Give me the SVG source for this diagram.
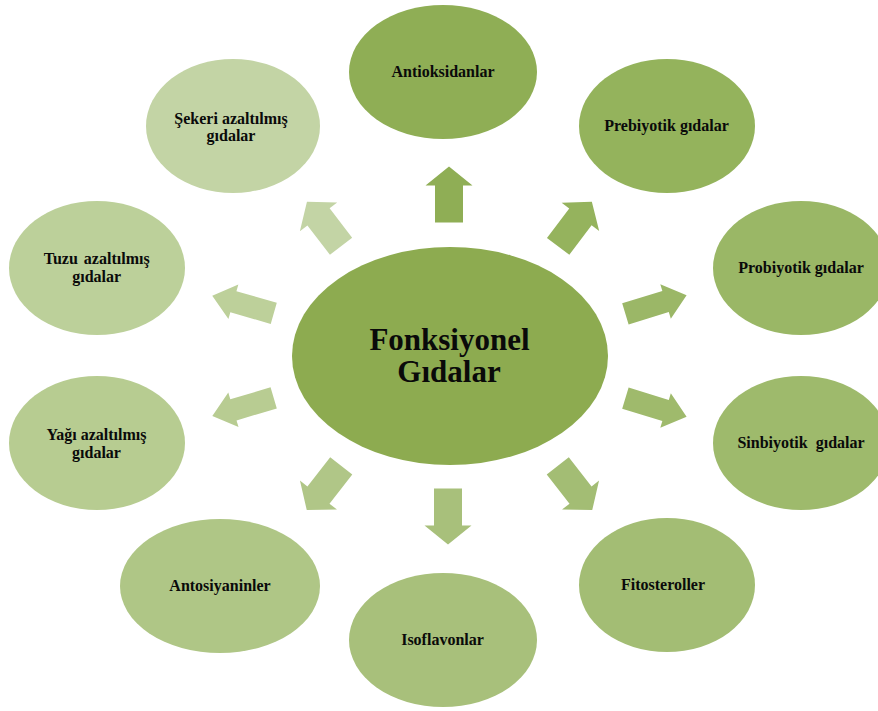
<svg xmlns="http://www.w3.org/2000/svg" xmlns:xlink="http://www.w3.org/1999/xlink" width="878" height="711" viewBox="0 0 878 711">
<style>
text{font-family:"Liberation Serif","Times New Roman",serif;font-weight:bold;fill:#0a0a0a;text-anchor:middle}
.lbl{font-size:16px}
.main{font-size:31px}
</style>
<defs>
<polygon id="arrowBig" points="-28,-14 9,-14 9,-23.5 28,0 9,23.5 9,14 -28,14"/>
<polygon id="arrowSmall" points="-32,-11 10,-11 10,-18 32,0 10,18 10,11 -32,11"/>
</defs>
<rect width="878" height="711" fill="#ffffff"/>
<g id="connectors">
<use xlink:href="#arrowBig" href="#arrowBig" fill="#8fae55" transform="translate(449,194.5) rotate(-90)"/>
<use xlink:href="#arrowBig" href="#arrowBig" fill="#95b35d" transform="translate(575,224) rotate(-53)"/>
<use xlink:href="#arrowSmall" href="#arrowSmall" fill="#9bb767" transform="translate(656,304.5) rotate(-17)"/>
<use xlink:href="#arrowSmall" href="#arrowSmall" fill="#9fba6c" transform="translate(656,407.5) rotate(17)"/>
<use xlink:href="#arrowBig" href="#arrowBig" fill="#a3bd74" transform="translate(575,488) rotate(52)"/>
<use xlink:href="#arrowBig" href="#arrowBig" fill="#a8c07b" transform="translate(448,516.5) rotate(90)"/>
<use xlink:href="#arrowBig" href="#arrowBig" fill="#b0c687" transform="translate(324,488) rotate(128)"/>
<use xlink:href="#arrowSmall" href="#arrowSmall" fill="#b8cc92" transform="translate(243,407) rotate(163.5)"/>
<use xlink:href="#arrowSmall" href="#arrowSmall" fill="#bdd09a" transform="translate(243,304.5) rotate(196)"/>
<use xlink:href="#arrowBig" href="#arrowBig" fill="#c3d4a5" transform="translate(324,224) rotate(-127.5)"/>
</g>
<g id="node-center">
<ellipse cx="450" cy="356" rx="158" ry="109" fill="#8dab50"/>
<text class="main" x="449.5" y="350">Fonksiyonel</text>
<text class="main" x="449" y="382">Gıdalar</text>
</g>
<g id="node-antioksidanlar">
<ellipse cx="443" cy="72" rx="94" ry="67" fill="#8fae55"/>
<text class="lbl" x="443" y="77">Antioksidanlar</text>
</g>
<g id="node-prebiyotik">
<ellipse cx="667" cy="126" rx="88" ry="67" fill="#94b35c"/>
<text class="lbl" x="666.5" y="131">Prebiyotik gıdalar</text>
</g>
<g id="node-probiyotik">
<ellipse cx="801" cy="268" rx="88" ry="67" fill="#9ab766"/>
<text class="lbl" x="801" y="273">Probiyotik gıdalar</text>
</g>
<g id="node-sinbiyotik">
<ellipse cx="801" cy="443" rx="88" ry="67" fill="#9eba6c"/>
<text class="lbl" x="801" y="448">Sinbiyotik <tspan dx="4">gıdalar</tspan></text>
</g>
<g id="node-fitosteroller">
<ellipse cx="667" cy="585" rx="88" ry="67" fill="#a3bd74"/>
<text class="lbl" x="663" y="590">Fitosteroller</text>
</g>
<g id="node-isoflavonlar">
<ellipse cx="443" cy="640" rx="94" ry="67" fill="#a8c07b"/>
<text class="lbl" x="442.5" y="645">Isoflavonlar</text>
</g>
<g id="node-antosiyaninler">
<ellipse cx="220" cy="586" rx="100" ry="67" fill="#afc686"/>
<text class="lbl" x="220" y="591">Antosiyaninler</text>
</g>
<g id="node-yagi">
<ellipse cx="97" cy="443" rx="88" ry="67" fill="#b7cc91"/>
<text class="lbl" x="96.5" y="440">Yağı azaltılmış</text>
<text class="lbl" x="96.5" y="458">gıdalar</text>
</g>
<g id="node-tuzu">
<ellipse cx="97" cy="268" rx="88" ry="67" fill="#bcd09a"/>
<text class="lbl" x="96.7" y="264">Tuzu <tspan dx="2">azaltılmış</tspan></text>
<text class="lbl" x="96.7" y="282">gıdalar</text>
</g>
<g id="node-sekeri">
<ellipse cx="233" cy="126" rx="87" ry="67" fill="#c3d4a5"/>
<text class="lbl" x="231" y="124">Şekeri azaltılmış</text>
<text class="lbl" x="231" y="141">gıdalar</text>
</g>
</svg>
